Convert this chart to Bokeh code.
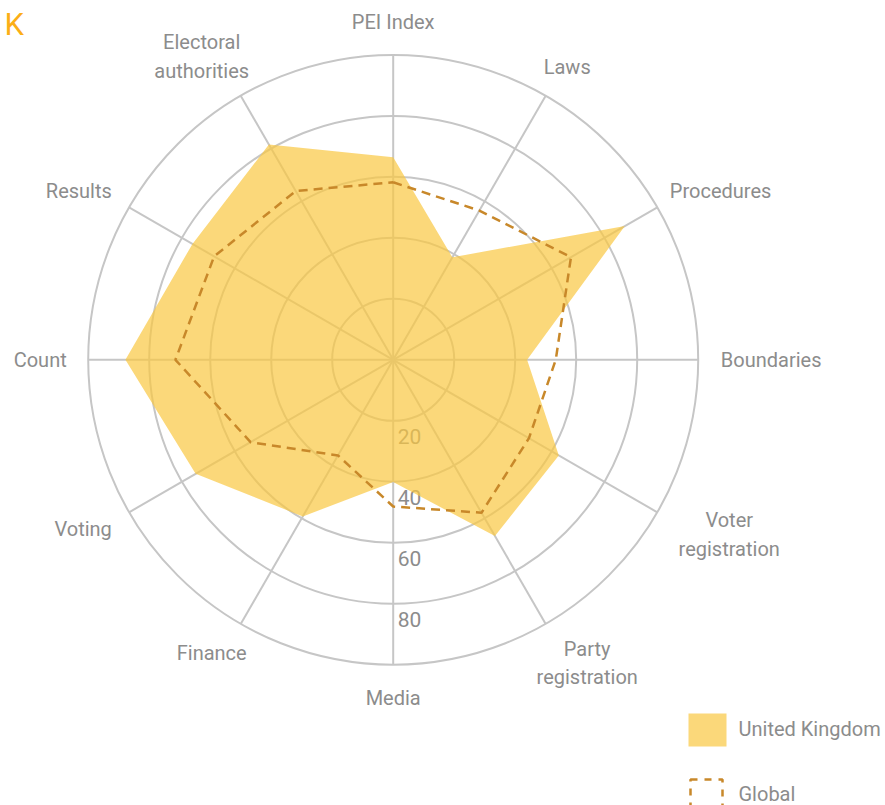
import numpy as np
from bokeh.plotting import figure
from bokeh.models import Range1d
from bokeh.core.properties import value
from bokeh.embed import file_html
from bokeh.resources import INLINE

# ---------------- data ----------------
categories = ["PEI Index", "Laws", "Procedures", "Boundaries", "Voter\nregistration",
              "Party\nregistration", "Media", "Finance", "Voting", "Count", "Results",
              "Electoral\nauthorities"]
uk_values = [66.4, 38.8, 87.7, 43.9, 62.7, 66.7, 40.1, 59.3, 74.8, 87.8, 76.0, 81.5]
global_values = [58.2, 56.5, 67.3, 53.3, 51.4, 57.9, 48.1, 36.2, 54.0, 71.4, 67.8, 63.9]
ring_values = [20, 40, 60, 80, 100]
tick_values = [20, 40, 60, 80]
tick_labels = ["20", "40", "60", "80"]
series_names = ["United Kingdom", "Global"]
panel_letter = "K"

# ---------------- style ----------------
PX = 3.05            # pixels per value unit
W, H = 885, 805
CX, CY = 392.7, 359.3
GRID = "#C6C6C6"
TEXT = "#8C8C8C"
FILL = "#F9C741"
DASH = "#C8882A"
FONT = value("Roboto")


def sx(px):
    return (px - CX) / PX


def sy(py):
    return -(py - CY) / PX


p = figure(width=W, height=H, output_backend="svg", toolbar_location=None,
           x_range=Range1d(sx(0), sx(W)), y_range=Range1d(sy(H), sy(0)),
           x_axis_location=None, y_axis_location=None,
           min_border=0, outline_line_color=None, background_fill_color="white")
p.grid.visible = False

n = len(categories)
theta = np.pi / 2 - np.arange(n) * 2 * np.pi / n
cos, sin = np.cos(theta), np.sin(theta)

# rings
p.circle(x=[0] * len(ring_values), y=[0] * len(ring_values), radius=ring_values,
         fill_color=None, line_color=GRID, line_width=2)
# spokes
rmax = max(ring_values)
p.segment(x0=[0] * n, y0=[0] * n, x1=list(rmax * cos), y1=list(rmax * sin),
          line_color=GRID, line_width=2)

# tick labels (below each ring, right of the vertical spoke)
p.text(x=[4.5 / PX] * len(tick_values), y=[-(v + 16 / PX) for v in tick_values],
       text=tick_labels, text_font=FONT, text_font_size="21px", text_color=TEXT,
       text_align="left", text_baseline="middle")

# UK area
ux = list(np.array(uk_values) * cos)
uy = list(np.array(uk_values) * sin)
p.patch(ux, uy, fill_color=FILL, fill_alpha=0.7, line_color=None)

# Global dashed outline
gx = list(np.array(global_values) * cos) + [global_values[0] * cos[0]]
gy = list(np.array(global_values) * sin) + [global_values[0] * sin[0]]
p.line(gx, gy, line_color=DASH, line_width=2.5, line_dash="9 6")

# category labels
R0 = 328
lx, ly = [], []
for c, cth, sth in zip(categories, cos, sin):
    lines = c.split("\n")
    hw = 5.0 * max(len(l) for l in lines)
    hh = 10 if len(lines) == 1 else 22
    lx.append((R0 * cth + cth * hw) / PX)
    ly.append((R0 * sth + sth * hh) / PX)
p.text(x=lx, y=ly, text=categories, text_font=FONT, text_font_size="20px",
       text_color=TEXT, text_align="center", text_baseline="middle",
       text_line_height=1.2)

# legend (drawn manually)
p.rect(x=[sx(707)], y=[sy(729.5)], width=38 / PX, height=33 / PX,
       fill_color=FILL, fill_alpha=0.7, line_color=None)
p.rect(x=[sx(706)], y=[sy(795)], width=32 / PX, height=32 / PX,
       fill_color=None, line_color=DASH, line_width=2.5, line_dash="7 7")
p.text(x=[sx(738)] * 2, y=[sy(728), sy(793)],
       text=series_names, text_font=FONT, text_font_size="20px", text_color=TEXT,
       text_align="left", text_baseline="middle")

# panel letter
p.text(x=[sx(4)], y=[sy(5)], text=[panel_letter], text_font=FONT,
       text_font_size="31px", text_color="#FBAE17", text_align="left",
       text_baseline="top")

open("out.html", "w").write(file_html(p, INLINE))
